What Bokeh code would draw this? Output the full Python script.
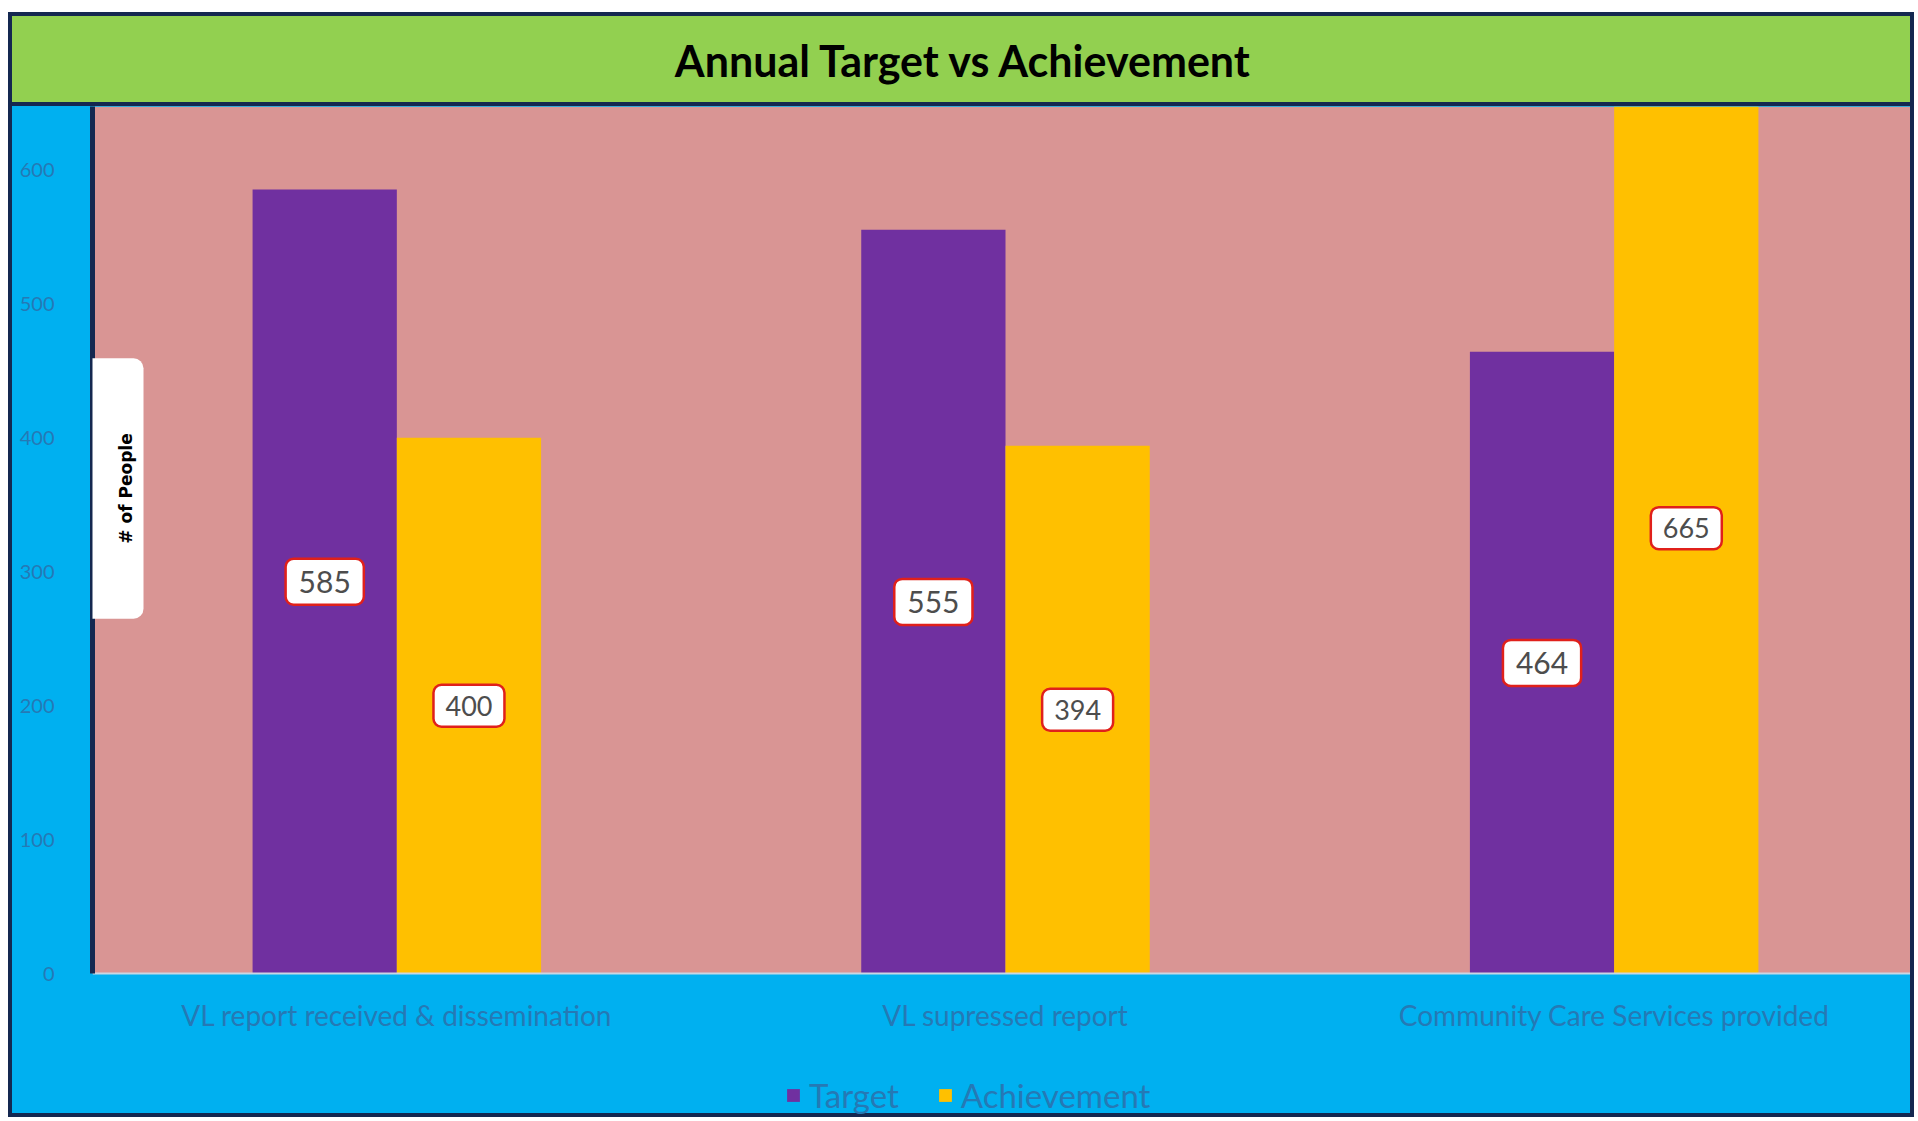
import math
from bokeh.plotting import figure
from bokeh.models import (ColumnDataSource, FactorRange, Range1d, Label, Legend,
                          LegendItem, FixedTicker, BoxAnnotation)
from bokeh.transform import dodge
from bokeh.layouts import column
from bokeh.core.properties import value
from bokeh.embed import file_html
from bokeh.resources import INLINE

# ---------------- data ----------------
categories = ["VL report received & dissemination", "VL supressed report",
              "Community Care Services provided"]
target = [585, 555, 464]
achievement = [400, 394, 665]
series_names = ["Target", "Achievement"]
y_ticks = [0, 100, 200, 300, 400, 500, 600]
title_text = "Annual Target vs Achievement"
y_title = "# of People"

# ---------------- style ----------------
NAVY = "#142850"
GREEN = "#92D050"
BLUE = "#00B0F0"
PINK = "#D99594"
PURPLE = "#7030A0"
GOLD = "#FFC000"
TICK = "#2579B5"
FONT = "Lato"
W = 1906

src = ColumnDataSource(dict(
    cat=categories, target=target, ach=achievement,
    target_mid=[v / 2 for v in target], ach_mid=[v / 2 for v in achievement],
    target_txt=[str(v) for v in target], ach_txt=[str(v) for v in achievement]))

# ---------------- title band ----------------
tf = figure(width=W, height=94, x_range=Range1d(0, 1), y_range=Range1d(0, 1),
            title=None, output_backend="svg", toolbar_location=None,
            min_border=0, min_border_left=80,
            x_axis_location=None, y_axis_location=None,
            background_fill_color=None, border_fill_color=GREEN,
            outline_line_color=None)
tf.grid.visible = False
tf.add_layout(Label(x=0.4774, y=0.53, text=title_text, text_align="center",
                    text_baseline="middle", text_font=FONT, text_font_style="bold",
                    text_font_size="43px", text_color="#000000"))
tf.styles = {"border": f"4px solid {NAVY}", "background-color": GREEN}

# ---------------- main chart ----------------
p = figure(width=W, height=1011, x_range=FactorRange(*categories, range_padding=0),
           y_range=Range1d(-107.1, 647), title=None, output_backend="svg",
           toolbar_location=None, min_border_left=80, min_border_right=0,
           min_border_top=0, min_border_bottom=0, background_fill_color=None,
           border_fill_color=BLUE, outline_line_color=None)
p.styles = {"border-left": f"4px solid {NAVY}", "border-right": f"4px solid {NAVY}",
            "border-bottom": f"4px solid {NAVY}", "background-color": BLUE}
p.xgrid.grid_line_color = None
p.ygrid.grid_line_color = None

# pink plot area (value 0 upward)
p.add_layout(BoxAnnotation(bottom=0, fill_color=PINK, fill_alpha=1,
                           line_color=None, level="underlay"))

bw = 0.237
r1 = p.vbar(x=dodge("cat", -bw / 2, range=p.x_range), top="target", width=bw,
            source=src, fill_color=PURPLE, line_color=None)
r2 = p.vbar(x=dodge("cat", bw / 2, range=p.x_range), top="ach", width=bw,
            source=src, fill_color=GOLD, line_color=None)

p.text(x=dodge("cat", -bw / 2, range=p.x_range), y="target_mid", text="target_txt",
       source=src, text_align="center", text_baseline="middle",
       text_font=value(FONT), text_font_size="30px", text_color="#4D4D4D",
       background_fill_color="white", border_line_color="#E0201B",
       border_line_width=2.5, border_radius=8,
       padding=dict(left=13, right=13, top=12, bottom=12))
p.text(x=dodge("cat", bw / 2, range=p.x_range), y="ach_mid", text="ach_txt",
       source=src, text_align="center", text_baseline="middle",
       text_font=value(FONT), text_font_size="27px", text_color="#4D4D4D",
       background_fill_color="white", border_line_color="#E0201B",
       border_line_width=2.5, border_radius=8,
       padding=dict(left=12, right=12, top=11, bottom=11))

# y axis
yax = p.yaxis[0]
yax.ticker = FixedTicker(ticks=y_ticks)
yax.bounds = (0, 647)
yax.major_tick_line_color = None
yax.minor_tick_line_color = None
yax.major_tick_out = 0
yax.major_tick_in = 0
yax.major_label_text_font = FONT
yax.major_label_text_font_size = "20px"
yax.major_label_text_color = TICK
yax.major_label_standoff = 38
yax.axis_line_color = NAVY
yax.axis_line_width = 5

# x axis, drawn at value 0 inside the frame
xax = p.xaxis[0]
xax.fixed_location = 0
xax.major_tick_line_color = None
xax.minor_tick_line_color = None
xax.major_tick_out = 0
xax.major_tick_in = 0
xax.major_label_text_font = FONT
xax.major_label_text_font_size = "28px"
xax.major_label_text_color = TICK
xax.major_label_standoff = 24
xax.axis_line_color = "#C9D6E3"
xax.axis_line_width = 2

# y axis title box
p.add_layout(Label(x=18, y=629, x_units="screen", y_units="screen", text=y_title,
                   angle=math.pi / 2, text_align="center", text_baseline="middle",
                   text_font="DejaVu Sans", text_font_style="bold",
                   text_font_size="17px", text_color="#000000",
                   background_fill_color="white", border_line_color=None,
                   border_radius=10,
                   padding=dict(left=75, right=75, top=38, bottom=8)))

# legend
legend = Legend(items=[LegendItem(label=series_names[0], renderers=[r1]),
                       LegendItem(label=series_names[1], renderers=[r2])],
                orientation="horizontal", location=(693, 2),
                background_fill_alpha=0, border_line_color=None,
                label_text_font=FONT, label_text_font_size="33px",
                label_text_color=TICK, glyph_width=16, glyph_height=16,
                spacing=38, label_standoff=8, padding=0, margin=0)
p.add_layout(legend, "center")

layout = column(tf, p, spacing=0, margin=(12, 0, 0, 8))
open("out.html", "w").write(file_html(layout, INLINE))
